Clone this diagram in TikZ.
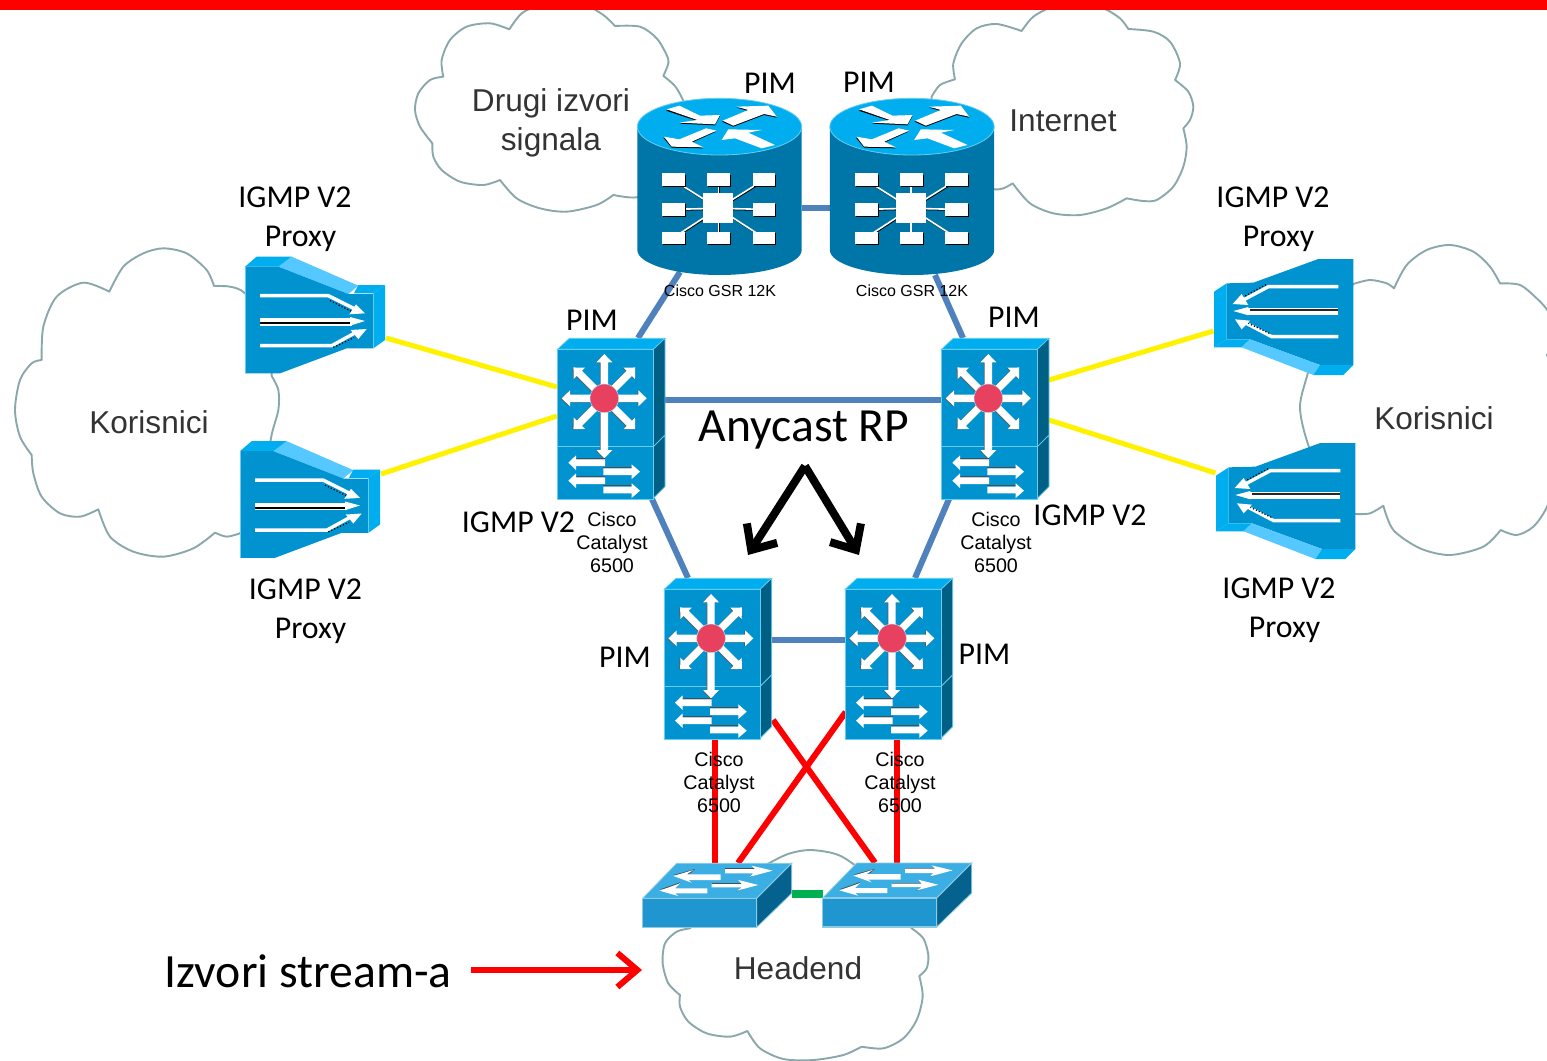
\documentclass[tikz,border=0pt]{standalone}
\usepackage{fontspec}
\setmainfont{Carlito}
\newfontfamily\libsans{Liberation Sans}
\usetikzlibrary{calc,arrows.meta}
\definecolor{rbody}{HTML}{0076A8}
\definecolor{rtop}{HTML}{00AEEF}
\definecolor{sfront}{HTML}{0093D0}
\definecolor{sside}{HTML}{005F85}
\definecolor{sedge}{HTML}{66CCF0}
\definecolor{pbevel}{HTML}{55C8FF}
\definecolor{atop}{HTML}{3BAEE3}
\definecolor{afront}{HTML}{1F96CF}
\definecolor{aside}{HTML}{05628E}
\definecolor{aedge}{HTML}{8CCBE0}
\definecolor{linkblue}{HTML}{4F81BD}
\definecolor{linkgreen}{HTML}{00B050}
\definecolor{cloudline}{HTML}{8AA8AC}
\definecolor{dotred}{HTML}{E8405F}
\definecolor{cloudtext}{HTML}{333333}
\tikzset{
  routerbox/.style={minimum width=164pt,minimum height=177pt,inner sep=0pt,outer sep=0pt},
  l3box/.style={minimum width=108pt,minimum height=161pt,inner sep=0pt,outer sep=0pt},
  proxybox/.style={minimum width=140pt,minimum height=117pt,inner sep=0pt,outer sep=0pt},
  accbox/.style={minimum width=149pt,minimum height=64pt,inner sep=0pt,outer sep=0pt},
  cloudshape/.style={draw=cloudline,line width=1.9pt,fill=white,line join=round},
  cloudlabel/.style={text=cloudtext,font={\libsans\fontsize{31.6}{39}\selectfont},align=center,inner sep=0pt},
  biglabel/.style={font={\fontsize{31.8}{38}\selectfont},inner sep=0pt},
  ciscolabel/.style={font={\libsans\fontsize{19.7}{23}\selectfont},align=center,inner sep=0pt},
  gsrlabel/.style={font={\libsans\fontsize{16}{18}\selectfont},inner sep=0pt},
  bluelink/.style={draw=linkblue,line width=6pt},
  yellowlink/.style={draw=yellow,line width=5pt},
  redlink/.style={draw=red,line width=6pt},
  greenlink/.style={draw=linkgreen,line width=8pt},
  routerdev/.pic={
    \fill[rbody] (52,110) -- (52,480) .. controls (52,521) and (162,555) .. (298,555)
       .. controls (434,555) and (545,521) .. (545,480) -- (545,110) -- cycle;
    \filldraw[fill=rtop,draw=sedge,line width=.8pt] (52,110) .. controls (52,63) and (162,25) .. (298,25)
       .. controls (434,25) and (545,63) .. (545,110) .. controls (545,157) and (434,195) .. (298,195)
       .. controls (162,195) and (52,157) .. (52,110) -- cycle;
    \fill[black] (138,62) -- (178,50) -- (240,80) -- (300,78) -- (285,106) -- (178,101) -- (232,93) -- cycle;
    \fill[black] (306,95) -- (385,63) -- (350,53) -- (445,50) -- (470,83) -- (432,75) -- (340,110) -- cycle;
    \fill[black] (288,125) -- (258,118) -- (178,151) -- (130,143) -- (155,173) -- (250,175) -- (215,158) -- cycle;
    \fill[white] (140,58) -- (178,47) -- (240,77) -- (300,75) -- (285,103) -- (178,98) -- (232,90) -- cycle;
    \fill[white] (308,92) -- (385,60) -- (350,50) -- (445,47) -- (470,80) -- (432,72) -- (340,107) -- cycle;
    \fill[white] (290,122) -- (258,115) -- (178,148) -- (132,140) -- (155,170) -- (250,172) -- (215,155) -- cycle;
    \fill[white] (305,150) -- (325,118) -- (425,120) -- (385,128) -- (465,165) -- (425,175) -- (345,145) -- cycle;
    \foreach \xa/\ya/\xb/\yb in {160/270/295/355, 295/270/295/355, 431/270/295/355, 160/358/295/355, 431/358/295/355, 160/443/295/355, 295/443/295/355, 431/443/295/355}{
      \draw[black,line width=1.2pt] (\xa+2,\ya+3) -- (\xb+2,\yb+3);
      \draw[white,line width=1.6pt] (\xa,\ya) -- (\xb,\yb);
    }
    \foreach \xa/\ya/\xb/\yb in {127/250/195/288, 262/250/330/288, 398/250/466/288, 127/338/195/378, 398/338/466/378, 127/425/195/462, 262/425/330/462, 398/425/466/462}{
      \fill[black] (\xa+3,\ya+4) rectangle (\xb+3,\yb+4);
      \fill[white] (\xa,\ya) rectangle (\xb,\yb);
    }
    \fill[white] (250,310) rectangle (340,400);
  },
  l3dev/.pic={
    \filldraw[fill=rtop,draw=sedge,line width=.7pt] (52,58) -- (88,25) -- (375,25) -- (340,58) -- cycle;
    \filldraw[fill=sside,draw=sedge,line width=.7pt] (340,58) -- (375,25) -- (375,315) -- (340,350) -- cycle;
    \filldraw[fill=sside,draw=sedge,line width=.7pt] (340,350) -- (375,315) -- (375,470) -- (340,505) -- cycle;
    \filldraw[fill=sfront,draw=sedge,line width=.7pt] (52,58) rectangle (340,350);
    \filldraw[fill=sfront,draw=sedge,line width=.7pt] (52,350) rectangle (340,507);
    \foreach \a/\L in {0/127,45/131,90/133,135/131,180/128,225/131,270/180,315/131}{
      \begin{scope}[shift={(190.5,206)},rotate=\a]
        \fill[black!65] (0,-11) -- (\L-25,-11) -- (\L-25,-24) -- (\L,0) -- (\L-25,24) -- (\L-25,11) -- (0,11) -- cycle;
      \end{scope}
      \begin{scope}[shift={(193,205)},rotate=\a]
        \fill[white] (0,-11) -- (\L-25,-11) -- (\L-25,-24) -- (\L,0) -- (\L-25,24) -- (\L-25,11) -- (0,11) -- cycle;
      \end{scope}
    }
    \filldraw[fill=dotred,draw=sedge!50,line width=.5pt] (193,205) circle (43);
    \fill[black!70] (108,385) -- (195,385) -- (195,388) -- (108,388) -- cycle;
    \fill[black!70] (108,439) -- (195,439) -- (195,442) -- (108,442) -- cycle;
    \fill[black!70] (190,412) -- (275,412) -- (275,415) -- (190,415) -- cycle;
    \fill[black!70] (190,466) -- (275,466) -- (275,469) -- (190,469) -- cycle;
    \fill[white] (85,398) -- (108,376) -- (108,388) -- (195,388) -- (195,408) -- (108,408) -- (108,420) -- cycle;
    \fill[white] (85,452) -- (108,430) -- (108,442) -- (195,442) -- (195,462) -- (108,462) -- (108,474) -- cycle;
    \fill[white] (300,425) -- (275,403) -- (275,415) -- (190,415) -- (190,435) -- (275,435) -- (275,447) -- cycle;
    \fill[white] (300,482) -- (275,460) -- (275,470) -- (190,470) -- (190,490) -- (275,490) -- (275,504) -- cycle;
  },
  proxyleft/.pic={
    \fill[rtop] (45,65) -- (80,35) -- (185,35) -- (150,65) -- cycle;
    \fill[pbevel] (145,65) -- (185,35) -- (385,122) -- (355,147) -- cycle;
    \fill[rtop] (372,145) -- (385,120) -- (465,120) -- (430,145) -- cycle;
    \fill[rtop] (430,145) -- (465,120) -- (465,285) -- (430,310) -- cycle;
    \fill[sfront] (45,65) -- (145,65) -- (355,147) -- (430,147) -- (430,310) -- (350,310) -- (150,385) -- (45,385) -- cycle;
    \draw[sedge,line width=.7pt] (45,65) -- (45,385) (430,147) -- (430,310);
    \draw[white,line width=3.4pt] (90,152) -- (295,152) -- (375,192);
    \draw[black,line width=1.2pt,dotted] (300,167) -- (372,203);
    \fill[white] (405,205) -- (358,208) -- (378,178) -- cycle;
    \fill[white] (90,220) rectangle (365,242);
    \fill[black] (90,231) rectangle (360,237);
    \fill[white] (405,228) -- (360,216) -- (360,242) -- cycle;
    \draw[white,line width=3.4pt] (90,302) -- (305,302) -- (378,262);
    \draw[black,line width=1.2pt,dotted] (310,307) -- (372,278);
    \fill[white] (410,252) -- (362,255) -- (385,282) -- cycle;
  },
  proxyright/.pic={
    \fill[sfront] (80,100) -- (160,98) -- (355,27) -- (460,27) -- (460,345) -- (360,345) -- (150,268) -- (80,268) -- cycle;
    \fill[rtop] (42,125) -- (80,100) -- (80,268) -- (42,292) -- cycle;
    \fill[rtop] (42,292) -- (80,268) -- (150,268) -- (125,292) -- cycle;
    \fill[pbevel] (125,292) -- (150,268) -- (360,345) -- (340,375) -- cycle;
    \fill[rtop] (340,375) -- (360,345) -- (460,345) -- (430,375) -- cycle;
    \draw[white,line width=3.4pt] (415,110) -- (205,110) -- (130,150);
    \draw[black,line width=1.2pt,dotted] (198,104) -- (135,138);
    \fill[white] (98,162) -- (145,165) -- (125,132) -- cycle;
    \fill[white] (145,174) rectangle (415,196);
    \fill[black!85] (150,177) rectangle (415,183);
    \fill[white] (100,183) -- (145,171) -- (145,196) -- cycle;
    \draw[white,line width=3.4pt] (415,260) -- (215,260) -- (135,218);
    \draw[black,line width=1.2pt,dotted] (208,250) -- (145,220);
    \fill[white] (105,208) -- (150,212) -- (125,238) -- cycle;
  },
  accessdev/.pic={
    \filldraw[fill=atop,draw=aedge,line width=.8pt] (38,145) -- (140,40) -- (485,40) -- (380,145) -- cycle;
    \filldraw[fill=aside,draw=aedge,line width=.8pt] (380,145) -- (485,40) -- (485,130) -- (380,232) -- cycle;
    \filldraw[fill=afront,draw=aedge,line width=1.2pt] (38,145) rectangle (380,232);
    \fill[black!70] (130,75) -- (195,57) -- (180,71) -- (130,75) -- cycle;
    \fill[black!70] (88,119) -- (150,97) -- (137,112) -- cycle;
    \fill[black!70] (285,54) rectangle (385,59);
    \fill[black!70] (245,99) rectangle (340,103);
    \fill[black!70] (360,82) -- (372,68) -- (378,72) -- cycle;
    \fill[black!70] (318,124) -- (335,110) -- (342,114) -- cycle;
    \fill[white] (130,78) -- (190,60) -- (170,73) -- (272,73) -- (272,90) -- (175,90) -- (185,98) -- cycle;
    \fill[white] (285,57) -- (375,57) -- (365,47) -- (428,62) -- (360,80) -- (370,70) -- (285,70) -- cycle;
    \fill[white] (88,122) -- (150,100) -- (135,115) -- (232,115) -- (232,130) -- (135,130) -- (145,138) -- cycle;
    \fill[white] (245,102) -- (335,102) -- (325,90) -- (385,105) -- (320,122) -- (335,112) -- (245,112) -- cycle;
  }
}
\begin{document}
\begin{tikzpicture}[x=1pt,y=-1pt]
\useasboundingbox (0,0) rectangle (1547,1060);
\fill[white] (0,0) rectangle (1547,1060);
% device anchors
\node[routerbox] (r1) at (719.5,186.5) {};
\node[routerbox] (r2) at (912,186.5) {};
\node[l3box] (s1) at (611,418.5) {};
\node[l3box] (s2) at (995,418.5) {};
\node[l3box] (s3) at (717.7,658.5) {};
\node[l3box] (s4) at (899.7,658.5) {};
\node[proxybox] (p1) at (315,315.5) {};
\node[proxybox] (p2) at (310,500) {};
\node[proxybox] (p3) at (1283.5,316.5) {};
\node[proxybox] (p4) at (1285.5,500.5) {};
\node[accbox] (sw1) at (717,895) {};
\node[accbox] (sw2) at (897,894.7) {};
% clouds
\begin{scope}
\clip (0,0) rectangle (1547,1060);
\begin{scope}[shift={(400,0)},scale=1/3]
\path[cloudshape,smooth] plot[smooth] coordinates {(130,230) (125,180) (150,120) (200,80) (270,70) (328,88)}
 -- plot[smooth] coordinates {(328,88) (365,40) (420,15) (480,5) (550,12) (610,45) (645,78)}
 -- plot[smooth] coordinates {(645,78) (720,80) (770,115) (800,165) (805,190) (790,228)}
 -- plot[smooth] coordinates {(790,228) (830,265) (860,340) (850,470) (780,560) (710,592) (640,585)}
 -- plot[smooth] coordinates {(640,585) (590,615) (500,635) (420,625) (350,595) (300,540)}
 -- plot[smooth] coordinates {(300,540) (250,555) (180,545) (125,510) (100,470) (97,430)}
 -- plot[smooth] coordinates {(97,430) (60,380) (45,330) (55,280) (90,240) (130,230)} -- cycle;
\end{scope}
\begin{scope}[shift={(920,0)},scale=1/3]
\path[cloudshape] plot[smooth] coordinates {(105,238) (100,190) (125,130) (170,85) (230,72) (305,93)}
 -- plot[smooth] coordinates {(305,93) (340,50) (400,20) (480,10) (550,25) (600,55) (625,87)}
 -- plot[smooth] coordinates {(625,87) (700,95) (750,125) (780,190) (765,240)}
 -- plot[smooth] coordinates {(765,240) (805,275) (820,320) (810,360) (790,385)}
 -- plot[smooth] coordinates {(790,385) (800,440) (790,500) (760,560) (710,600) (670,603) (620,595)}
 -- plot[smooth] coordinates {(620,595) (560,625) (480,645) (400,640) (330,610) (278,550)}
 -- plot[smooth] coordinates {(278,550) (250,565) (220,568) (120,560) (40,400) (35,290)}
 -- plot[smooth] coordinates {(35,290) (60,255) (105,238)} -- cycle;
\end{scope}
\begin{scope}[shift={(0,240)},scale=1/3]
\path[cloudshape] plot[smooth] coordinates {(125,360) (130,260) (170,170) (250,128) (328,155)}
 -- plot[smooth] coordinates {(328,155) (370,80) (430,40) (490,25) (560,40) (620,90) (642,138)}
 -- plot[smooth] coordinates {(642,138) (690,140) (735,160) (800,250) (815,408)}
 -- plot[smooth] coordinates {(815,408) (835,450) (835,510) (812,600) (800,750) (720,880)}
 -- plot[smooth] coordinates {(720,880) (680,890) (645,878)}
 -- plot[smooth] coordinates {(645,878) (580,925) (490,950) (400,935) (330,890) (295,808)}
 -- plot[smooth] coordinates {(295,808) (240,830) (180,820) (125,770) (100,700) (95,645)}
 -- plot[smooth] coordinates {(95,645) (60,590) (45,510) (60,420) (95,370) (125,360)} -- cycle;
\end{scope}
\begin{scope}[shift={(1290,240)},scale=1/3]
\path[cloudshape] plot[smooth] coordinates {(190,132) (240,120) (290,130) (312,145)}
 -- plot[smooth] coordinates {(312,145) (350,75) (410,30) (480,15) (550,35) (600,80) (630,130)}
 -- plot[smooth] coordinates {(630,130) (690,135) (740,175) (775,215) (800,280) (771,345)}
 -- plot[smooth] coordinates {(771,345) (820,500) (800,700) (771,800) (730,860) (680,885) (632,870)}
 -- plot[smooth] coordinates {(632,870) (580,920) (480,945) (390,925) (310,870) (280,797)}
 -- plot[smooth] coordinates {(280,797) (240,820) (195,822)}
 -- plot[smooth] coordinates {(195,822) (100,720) (50,600) (30,500) (52,405) (100,250) (190,132)} -- cycle;
\end{scope}
\begin{scope}[shift={(640,840)},scale=1/3]
\path[cloudshape] plot[smooth] coordinates {(120,465) (85,430) (68,370) (75,310) (110,275) (150,265)}
 -- plot[smooth] coordinates {(150,265) (250,150) (390,68) (450,40) (510,30) (580,40) (630,65) (750,160) (815,265)}
 -- plot[smooth] coordinates {(815,265) (850,295) (865,345) (860,385) (838,408)}
 -- plot[smooth] coordinates {(838,408) (848,470) (830,540) (790,595) (730,625) (665,620)}
 -- plot[smooth] coordinates {(665,620) (610,645) (520,660) (430,657) (360,625) (322,573)}
 -- plot[smooth] coordinates {(322,573) (270,590) (200,580) (145,545) (120,500) (120,465)} -- cycle;
\end{scope}
\end{scope}
\fill[red] (0,0) rectangle (1547,10);
% connectors
\draw[bluelink] ($(r1.center)+(-39.5,85.5)$) -- ($(s1.center)+(27,-80.5)$);
\draw[bluelink] ($(r2.center)+(23,88.5)$) -- ($(s2.center)+(-32,-80.5)$);
\draw[bluelink] ($(r1.east)+(0,21.5)$) -- ($(r2.west)+(0,21.5)$);
\draw[bluelink] ($(s1.east)+(0,-18.5)$) -- ($(s2.west)+(0,-18.5)$);
\draw[bluelink] ($(s1.center)+(41,80.5)$) -- ($(s3.center)+(-29.7,-80.5)$);
\draw[bluelink] ($(s2.center)+(-46,80.5)$) -- ($(s4.center)+(15.3,-80.5)$);
\draw[bluelink] ($(s3.east)+(0,-18.5)$) -- ($(s4.west)+(0,-18.5)$);
\draw[yellowlink] ($(p1.center)+(71,22.5)$) -- ($(s1.west)+(0,-31.5)$);
\draw[yellowlink] ($(p2.center)+(71,-26)$) -- ($(s1.west)+(0,-2.5)$);
\draw[yellowlink] ($(s2.east)+(0,-38.5)$) -- ($(p3.west)+(0,14.5)$);
\draw[yellowlink] ($(s2.east)+(0,1.5)$) -- ($(p4.west)+(0,-27.5)$);
\draw[redlink] ($(s3.south)+(-2.7,0)$) -- ($(sw1.north)+(-2,0)$);
\draw[redlink] ($(s4.south)+(-2.7,0)$) -- (sw2.north);
\draw[redlink] ($(s3.east)+(1.3,61.5)$) -- ($(sw2.north)+(-22,0)$);
\draw[redlink] ($(s4.west)+(0,53.5)$) -- ($(sw1.north)+(21,0)$);
\draw[greenlink] ($(sw1.east)+(0,-1.5)$) -- ($(sw2.west)+(0,-1.2)$);
% devices
\pic[scale=1/3] at (620,90) {routerdev};
\pic[scale=1/3] at (812.5,90) {routerdev};
\pic[scale=1/3] at (540,330) {l3dev};
\pic[scale=1/3] at (924,330) {l3dev};
\pic[scale=1/3] at (646.7,570) {l3dev};
\pic[scale=1/3] at (827.7,570) {l3dev};
\pic[scale=1/3] at (230,245) {proxyleft};
\pic[scale=1/3] at (225,429.5) {proxyleft};
\pic[scale=1/3] at (1200,250) {proxyright};
\pic[scale=1/3] at (1202,434) {proxyright};
\pic[scale=1/3] at (630,850) {accessdev};
\pic[scale=1/3] at (810,849.7) {accessdev};
% big arrows
\node[font={\fontsize{47.6}{50}\selectfont},inner sep=0pt] (any) at (804,430) {Anycast RP};
\coordinate (apex) at (805,466);
\coordinate (tipl) at (748,555);
\coordinate (tipr) at (859,555);
\draw[black,line width=8pt,-{Straight Barb[length=20pt,width=36pt]}] (apex) -- (tipl);
\draw[black,line width=8pt,-{Straight Barb[length=20pt,width=36pt]}] (apex) -- (tipr);
\node[font={\fontsize{47.7}{54}\selectfont},inner sep=0pt] (izv) at (308,971) {Izvori stream-a};
\coordinate (izvtip) at (642,970);
\draw[red,line width=6pt,-{Straight Barb[length=20pt,width=34pt]}] ($(izv.east)+(19,-1)$) -- (izvtip);
% labels
\node[biglabel] (l1) at (770,83) {PIM};
\node[biglabel] (l2) at (869,82) {PIM};
\node[biglabel] (l3) at (592,320) {PIM};
\node[biglabel] (l4) at (1014,317) {PIM};
\node[biglabel] (l5) at (625,657) {PIM};
\node[biglabel] (l6) at (984.5,654) {PIM};
\node[biglabel] (g1) at (295,197) {IGMP V2};
\node[biglabel] (g1b) at (300.5,239) {Proxy};
\node[biglabel] (g2) at (305.5,589) {IGMP V2};
\node[biglabel] (g2b) at (310.5,631) {Proxy};
\node[biglabel] (g3) at (1273,197) {IGMP V2};
\node[biglabel] (g3b) at (1278.5,239) {Proxy};
\node[biglabel] (g4) at (1279,588) {IGMP V2};
\node[biglabel] (g4b) at (1284.5,630) {Proxy};
\node[biglabel] (g5) at (518.5,522) {IGMP V2};
\node[biglabel] (g6) at (1090,515) {IGMP V2};
\node[ciscolabel] (c1) at (612,542) {Cisco\\Catalyst\\6500};
\node[ciscolabel] (c2) at (996,542) {Cisco\\Catalyst\\6500};
\node[ciscolabel] (c3) at (719,782) {Cisco\\Catalyst\\6500};
\node[ciscolabel] (c4) at (900,782) {Cisco\\Catalyst\\6500};
\node[gsrlabel] (c5) at (720,291) {Cisco GSR 12K};
\node[gsrlabel] (c6) at (912,291) {Cisco GSR 12K};
\node[cloudlabel] (n1) at (551,123) {Drugi izvori\\signala};
\node[cloudlabel] (n2) at (1063,121) {Internet};
\node[cloudlabel] (n3) at (149,422) {Korisnici};
\node[cloudlabel] (n4) at (1434,418) {Korisnici};
\node[cloudlabel] (n5) at (798,968) {Headend};
\end{tikzpicture}
\end{document}
